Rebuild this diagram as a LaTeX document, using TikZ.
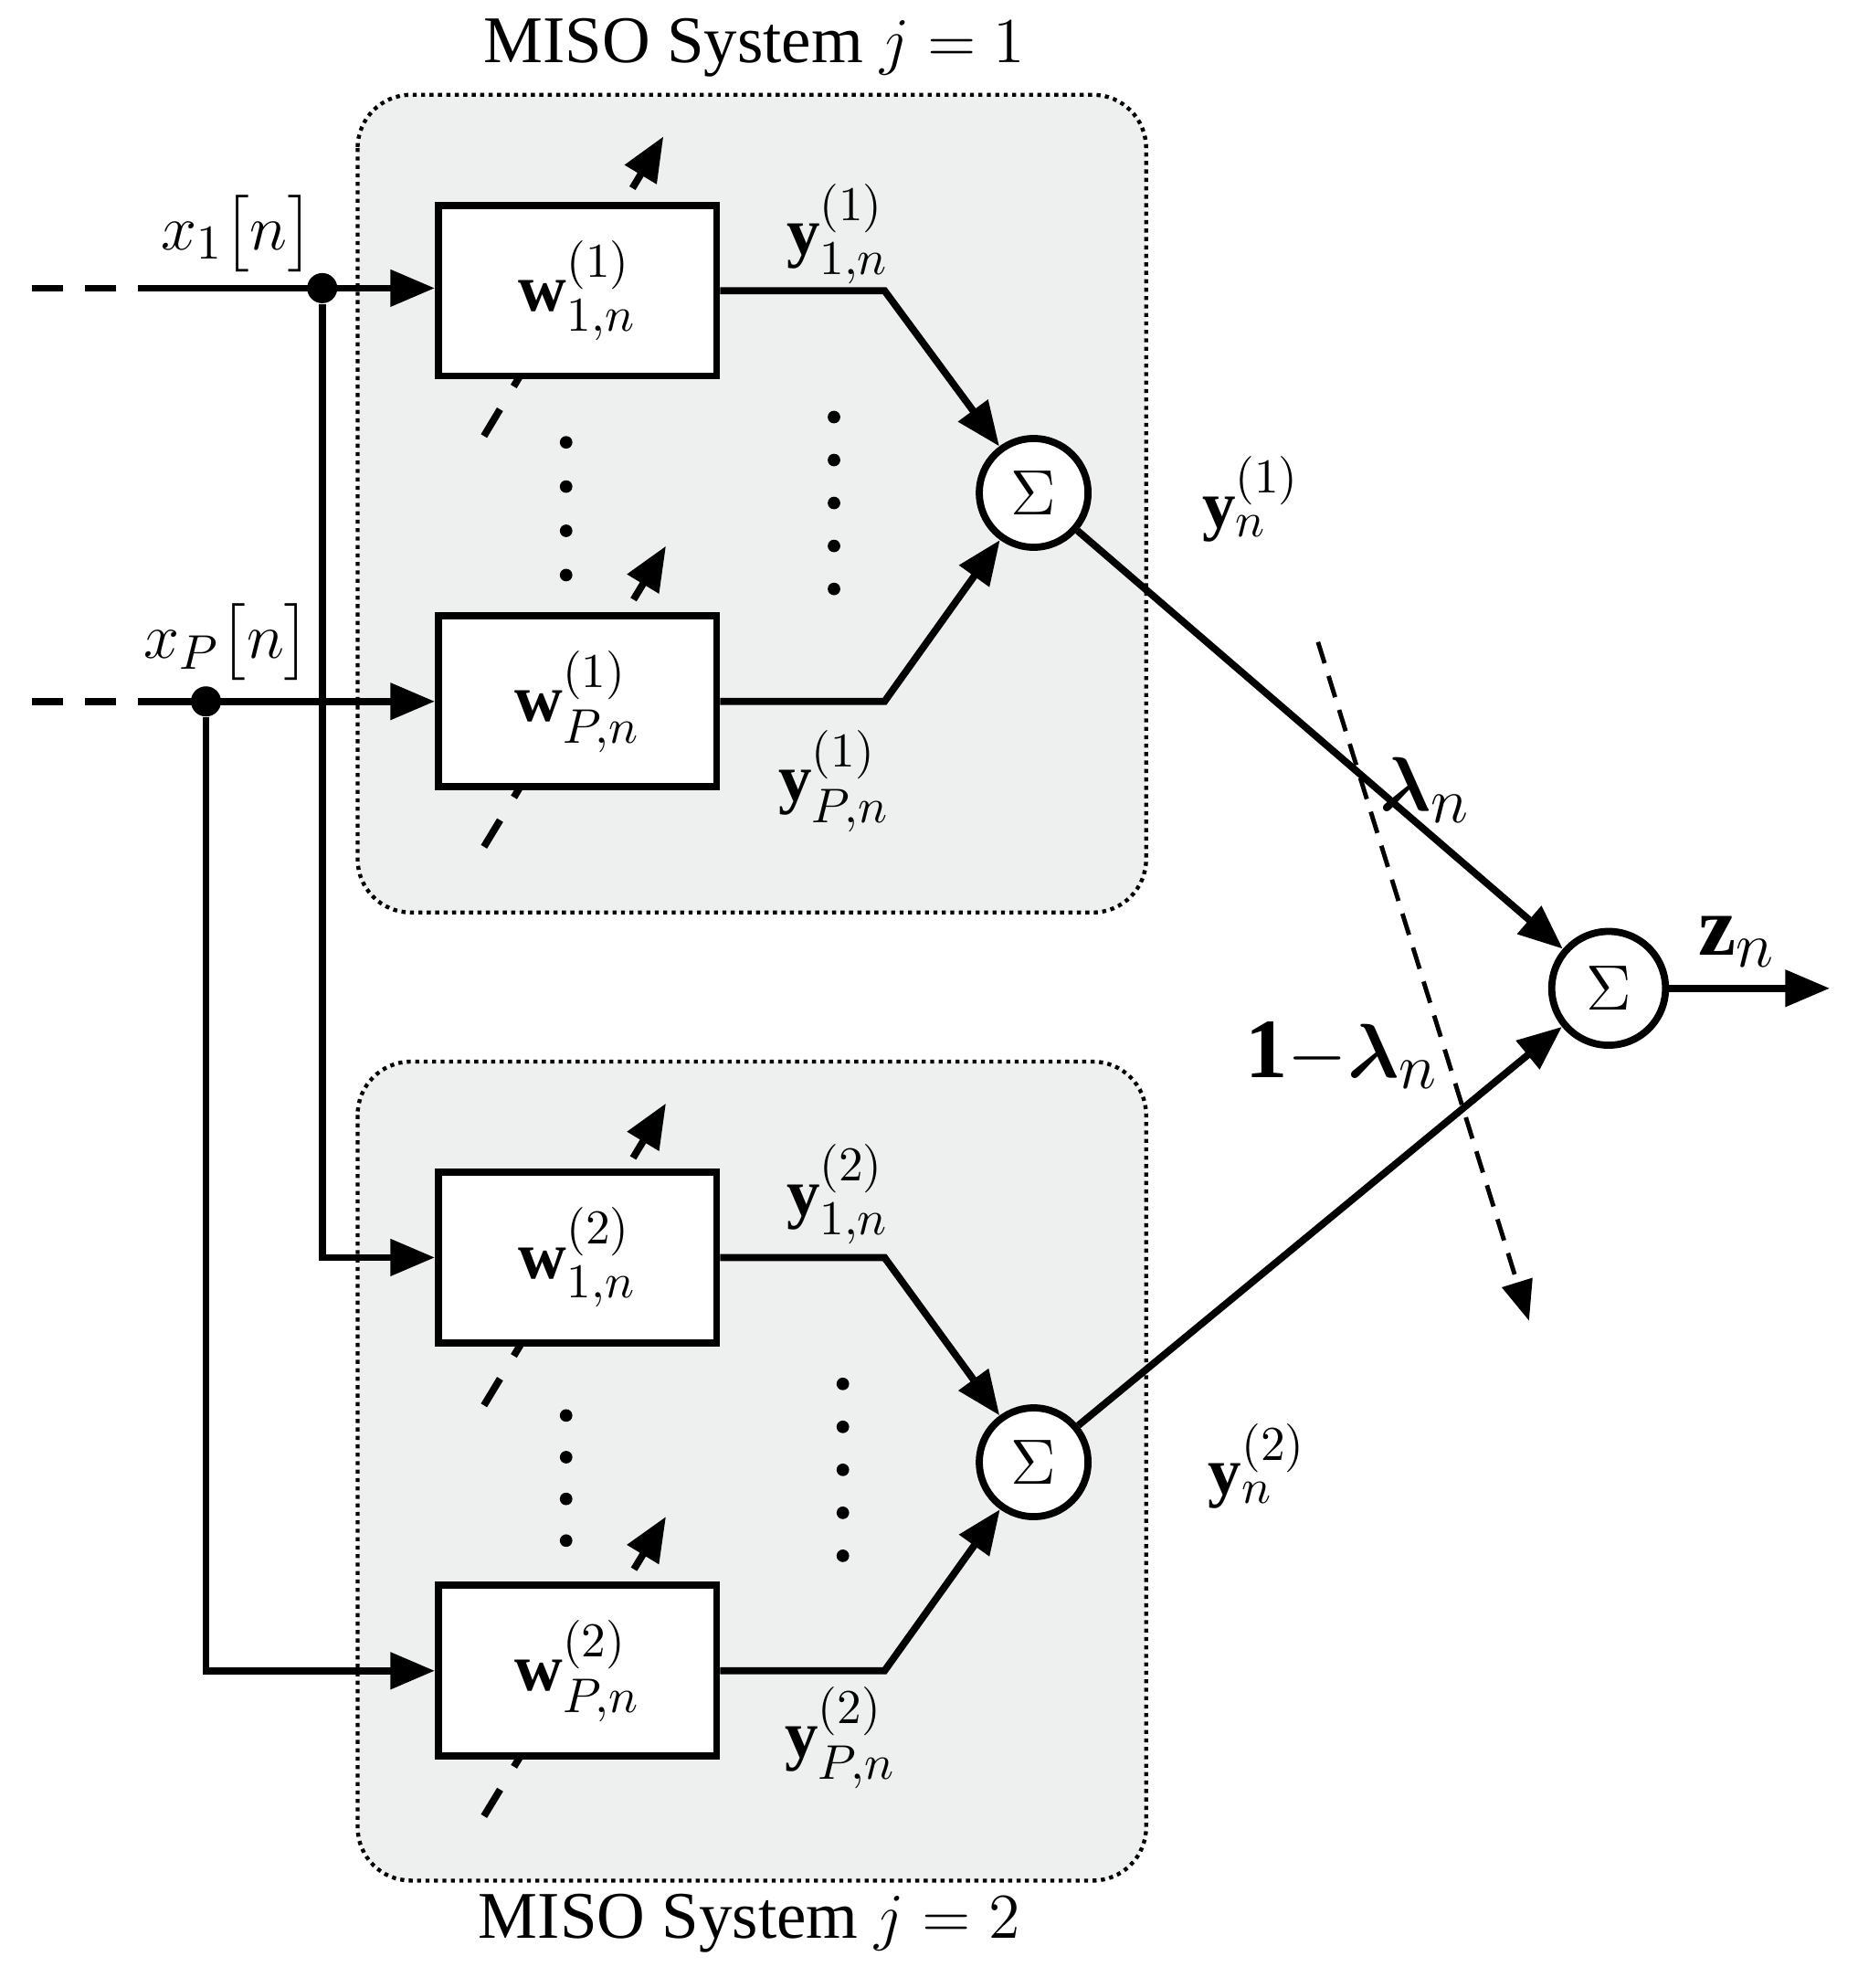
\documentclass[tikz,border=0pt]{standalone}
\usepackage{amsmath}
\usepackage{fontspec}
\setmainfont{Liberation Serif}
\usetikzlibrary{arrows.meta,calc}
\definecolor{panel}{HTML}{EEF0EF}
\begin{document}
\begin{tikzpicture}[x=0.01cm,y=-0.01cm,
  wire/.style={line width=1.6pt},
  arr/.style={wire,-{Triangle[length=10pt,width=8pt]}},
  blk/.style={draw,line width=1.6pt,fill=white,minimum width=2.2cm,minimum height=1.35cm,inner sep=0pt,font=\fontsize{15}{18}\selectfont},
  sum/.style={draw,circle,line width=1.6pt,fill=white,minimum size=0.86cm,inner sep=0pt,font=\fontsize{15}{15}\selectfont},
  panelbox/.style={draw,densely dotted,line width=0.9pt,rounded corners=12pt,fill=panel},
  adapt/.style={line width=1.6pt,dash pattern=on 7pt off 6pt,-{Triangle[length=10pt,width=8pt]}},
  lbl/.style={font=\fontsize{15}{18}\selectfont},
  dot/.style={circle,fill,inner sep=2.4pt},
  sdot/.style={circle,fill,inner sep=1pt}]
\useasboundingbox (0,0) rectangle (1470,1573);
% panels
\draw[panelbox] (283,75) rectangle (907,722);
\draw[panelbox] (283,840) rectangle (907,1488);
\node[lbl] (t1) at (597,38) {MISO System $j=1$};
\node[lbl] (t2) at (593,1522) {MISO System $j=2$};
% adaptation arrows (behind blocks)
\coordinate (a1s) at (383,345); \coordinate (a1e) at (525,108);
\coordinate (a2s) at (383,670); \coordinate (a2e) at (527,432);
\coordinate (a3s) at (383,1112); \coordinate (a3e) at (527,873);
\coordinate (a4s) at (383,1437); \coordinate (a4e) at (527,1200);
\foreach \i in {1,2,3,4} \draw[adapt] (a\i s) -- (a\i e);
% blocks
\node[blk] (w11) at (457,230) {$\mathbf{w}^{(1)}_{1,n}$};
\node[blk] (wP1) at (457,555) {$\mathbf{w}^{(1)}_{P,n}$};
\node[blk] (w12) at (457,995) {$\mathbf{w}^{(2)}_{1,n}$};
\node[blk] (wP2) at (457,1322) {$\mathbf{w}^{(2)}_{P,n}$};
% sums
\node[sum] (s1) at (818,390) {$\Sigma$};
\node[sum] (s2) at (818,1157) {$\Sigma$};
\node[sum,minimum size=0.9cm] (s3) at (1273,782) {$\Sigma$};
% inputs
\coordinate (i1) at (25,228); \coordinate (i1b) at (120,228);
\coordinate (iP) at (25,555); \coordinate (iPb) at (120,555);
\node[dot] (d1) at (255,228) {};
\node[dot] (dP) at (163,555) {};
\draw[wire,dash pattern=on 7pt off 5pt] (i1) -- (i1b);
\draw[wire,dash pattern=on 7pt off 5pt] (iP) -- (iPb);
\draw[arr] (i1b) -- (w11.west |- i1b);
\draw[arr] (iPb) -- (wP1.west |- iPb);
\draw[arr] (d1) |- (w12.west);
\draw[arr] (dP) |- (wP2.west);
\node[lbl] (x1) at (188,185) {$x_{1}\big[n\big]$};
\node[lbl] (xP) at (180,508) {$x_{P}\big[n\big]$};
% outputs to sums
\draw[arr] (w11.east) -- (700,230) -- (s1);
\draw[arr] (wP1.east) -- (700,555) -- (s1);
\draw[arr] (w12.east) -- (700,995) -- (s2);
\draw[arr] (wP2.east) -- (700,1322) -- (s2);
\draw[arr] (s1) -- (s3);
\draw[arr] (s2) -- (s3);
\coordinate (zo) at (1448,782);
\draw[arr] (s3) -- (zo);
% combination parameter
\coordinate (ls) at (1043,508); \coordinate (le) at (1210,1045);
\draw[line width=1pt,dash pattern=on 5pt off 3pt,-{Triangle[length=9pt,width=7pt]}] (ls) -- (le);
% dots
\foreach \y in {350,385,420,455} \node[sdot] at (448,\y) {};
\foreach \y in {330,364,398,432,466} \node[sdot] at (660,\y) {};
\foreach \y in {1120,1153,1186,1219} \node[sdot] at (448,\y) {};
\foreach \y in {1095,1129,1163,1197,1231} \node[sdot] at (667,\y) {};
% labels
\node[lbl] (ly11) at (663,185) {$\mathbf{y}^{(1)}_{1,n}$};
\node[lbl] (lyP1) at (660,618) {$\mathbf{y}^{(1)}_{P,n}$};
\node[lbl] (ly1) at (990,395) {$\mathbf{y}^{(1)}_{n}$};
\node[lbl] (ly12) at (663,945) {$\mathbf{y}^{(2)}_{1,n}$};
\node[lbl] (lyP2) at (665,1375) {$\mathbf{y}^{(2)}_{P,n}$};
\node[lbl] (ly2) at (995,1160) {$\mathbf{y}^{(2)}_{n}$};
\node[font=\fontsize{19}{22}\selectfont] (lam) at (1128,625) {$\boldsymbol{\lambda}_n$};
\node[font=\fontsize{19}{22}\selectfont] (olam) at (1062,835) {$\mathbf{1}{-}\boldsymbol{\lambda}_n$};
\node[font=\fontsize{19}{22}\selectfont] (lz) at (1375,745) {$\mathbf{z}_n$};
\end{tikzpicture}
\end{document}
